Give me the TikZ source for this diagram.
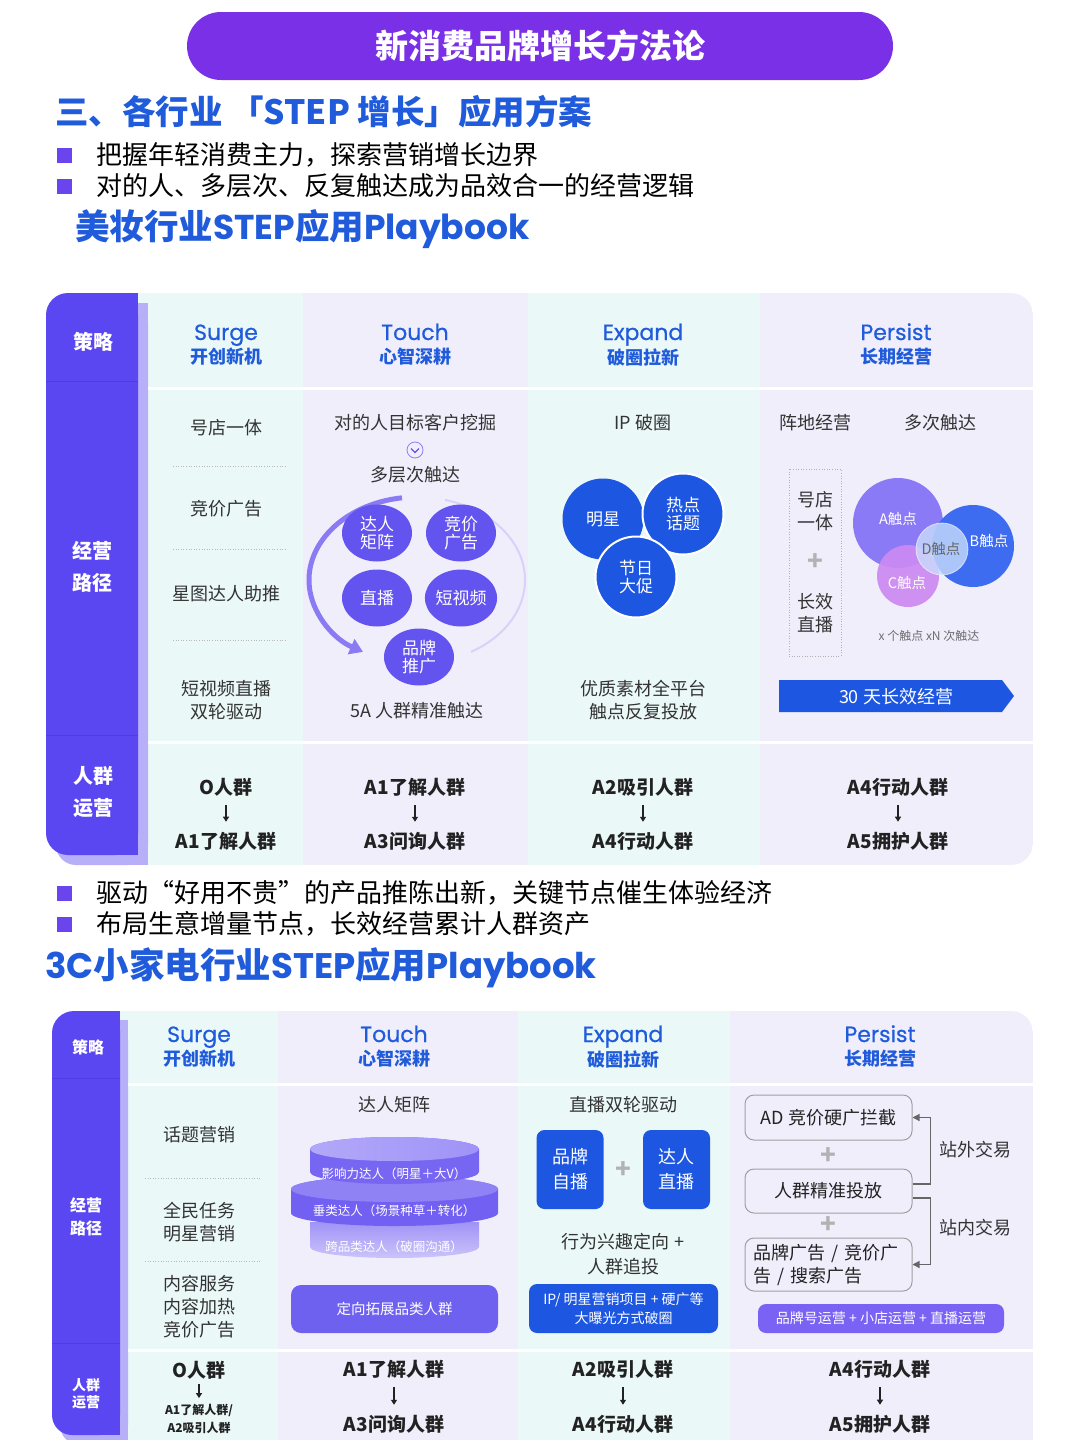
\documentclass[tikz,border=0pt]{standalone}
\usepackage{fontspec}
\setmainfont{Noto Sans CJK SC}
\newfontfamily\pop{Poppins}
\newfontfamily\popm{Poppins}[FakeBold=0.6]
\usetikzlibrary{arrows.meta,shapes.geometric,calc}
\definecolor{pur}{HTML}{5B47F1}
\definecolor{purdk}{HTML}{4F3CE2}
\definecolor{purlt}{HTML}{B7AFF8}
\definecolor{cyanbg}{HTML}{EBF8F8}
\definecolor{lavbg}{HTML}{F1EEFC}
\definecolor{hblue}{HTML}{1F5BDA}
\definecolor{banner}{HTML}{7A30E6}
\definecolor{txt}{HTML}{333333}
\definecolor{dark}{HTML}{222222}
\definecolor{cpur}{HTML}{6353EF}
\definecolor{eblue}{HTML}{1C56E1}
\definecolor{bul}{HTML}{6A44EC}
\definecolor{ringc}{HTML}{8A7BF4}
\definecolor{ringl}{HTML}{D8D2FA}
\definecolor{va}{HTML}{8A7AF6}
\definecolor{vb}{HTML}{3E6CF1}
\definecolor{vc}{HTML}{CC8AF2}
\definecolor{vd}{HTML}{C9DDFB}
\definecolor{pbarc}{HTML}{7A63F4}
\definecolor{cylA}{HTML}{7766F2}
\definecolor{cylAt}{HTML}{9F93F7}
\definecolor{cylB}{HTML}{7160F1}
\definecolor{cylBt}{HTML}{8F82F5}
\definecolor{cylC}{HTML}{A093F6}
\newcommand\fsz[2]{\fontsize{#1}{#2}\selectfont}
\begin{document}
\begin{tikzpicture}[x=1pt,y=-1pt,
  every node/.style={inner sep=0pt,align=center},
  hdr/.style={anchor=base, font=\popm\fsz{22}{26}, text=hblue},
  subh/.style={font=\fsz{18}{22}\bfseries, text=hblue},
  lab/.style={font=\fsz{20}{32}\bfseries, text=white},
  labs/.style={font=\fsz{16}{23}\bfseries, text=white},
  midt/.style={font=\fsz{18}{23}, text=txt},
  popl/.style={font=\fsz{19}{23}\bfseries, text=dark},
  darr/.style={-{Triangle[width=6pt,length=5pt]}, line width=1.6pt, draw=dark, shorten <=9pt, shorten >=10pt},
  darrb/.style={-{Triangle[width=6pt,length=5pt]}, line width=1.6pt, draw=dark, shorten <=5pt, shorten >=6pt},
  dots/.style={draw=gray!55, line width=1pt, dash pattern=on 1pt off 1.6pt},
  tc/.style={ellipse, fill=cpur, minimum width=70pt, minimum height=57pt, text=white, font=\fsz{17}{18}},
  ec/.style={circle, fill=eblue, minimum size=81pt, text=white, font=\fsz{17}{18}},
  vl/.style={font=\fsz{14.5}{16}, text=white},
  bulsq/.style={fill=bul, minimum size=15pt},
  bult/.style={anchor=west, font=\fsz{26}{30}, text=black},
  plusm/.style={font=\fsz{26}{26}\bfseries, text=gray!60},
  bsq/.style={fill=eblue, rounded corners=8pt, minimum width=67pt, minimum height=79pt, text=white, font=\fsz{18}{25}},
  obox/.style={draw=gray!75, line width=1pt, rounded corners=9pt, fill=lavbg, minimum width=167pt, text=dark, font=\fsz{18}{23}},
  conn/.style={draw=gray!80!black, line width=1.2pt, -{Triangle[width=7pt,length=7pt]}},
  cyltxt/.style={font=\fsz{12.5}{14}, text=white}
]
\fill[white] (0,0) rectangle (1080,1440);
\useasboundingbox (0,0) rectangle (1080,1440);

% ---------- banner and headings
\node[fill=banner, rounded corners=34pt, minimum width=706pt, minimum height=68pt,
      text=white, font=\fsz{33}{40}\bfseries] (ban) at (540,46) {新消费品牌增长方法论};
\node[anchor=west, text=hblue, font=\fsz{33.5}{38}\bfseries] (h1) at (55,112) {三、各行业\ 「STEP 增长」应用方案};
\node[bulsq] (bq1) at (64,155) {};
\node[bult] (bt1) at (96,155) {把握年轻消费主力，探索营销增长边界};
\node[bulsq] (bq2) at (64,186) {};
\node[bult] (bt2) at (96,186) {对的人、多层次、反复触达成为品效合一的经营逻辑};
\node[anchor=west, text=hblue, font=\fsz{34.5}{40}\bfseries] (h2) at (75,229) {美妆行业{\pop STEP}应用{\pop Playbook}};

% ---------- table 1 background
\begin{scope}
\clip[rounded corners=22pt] (46,293) rectangle (1033,865);
\fill[cyanbg] (138,293) rectangle (303,865);
\fill[lavbg] (303,293) rectangle (528,865);
\fill[cyanbg] (528,293) rectangle (760,865);
\fill[lavbg] (760,293) rectangle (1033,865);
\fill[purlt,rounded corners=20pt] (56,303) rectangle (148,865);
\fill[purlt] (120,303) rectangle (148,865);
\fill[pur,rounded corners=22pt] (46,293) rectangle (138,855);
\fill[pur] (110,293) rectangle (138,855);
\draw[purdk, line width=1pt] (46,381) -- (138,381);
\draw[purdk, line width=1pt] (46,735) -- (138,735);
\draw[white, line width=3pt] (148,388) -- (1033,388);
\draw[white, line width=3pt] (148,742) -- (1033,742);
\end{scope}

\node[lab] (l1a) at (93,342) {策略};
\node[lab] (l1b) at (92,567) {经营\\路径};
\node[lab] (l1c) at (93,792) {人群\\运营};

\node[hdr] (s1) at (226,340) {Surge};
\node[subh] (s1c) at (226,357) {开创新机};
\node[hdr] (t1) at (415,340) {Touch};
\node[subh] (t1c) at (415,357) {心智深耕};
\node[hdr] (e1) at (643,340) {Expand};
\node[subh] (e1c) at (643,357) {破圈拉新};
\node[hdr] (p1) at (896,340) {Persist};
\node[subh] (p1c) at (896,357) {长期经营};

% Surge column
\node[midt] (sa) at (226,428) {号店一体};
\draw[dots] (173,466) -- (287,466);
\node[midt] (sb) at (226,509) {竞价广告};
\draw[dots] (173,549) -- (287,549);
\node[midt] (sc) at (226,594) {星图达人助推};
\draw[dots] (173,640) -- (287,640);
\node[midt] (sd) at (226,700) {短视频直播\\双轮驱动};

% Touch column
\node[midt] (ta) at (415,423) {对的人目标客户挖掘};
\node[circle, draw=cpur!75, line width=0.8pt, minimum size=16pt] (chev) at (415,450) {};
\draw[cpur, line width=1.2pt] ($(chev)+(-4,-1.5)$) -- ($(chev)+(0,2.5)$) -- ($(chev)+(4,-1.5)$);
\node[midt] (tb) at (415,475) {多层次触达};
\draw[ringl, line width=2pt] (417,580) ++(285:108 and 83) arc[start angle=285, end angle=420, x radius=108, y radius=83];
\draw[ringc, line width=5pt, -{Triangle[width=16pt,length=13pt]}] (417,580) ++(262:108 and 83) arc[start angle=262, end angle=120, x radius=108, y radius=83];
\node[tc] (c1) at (377,533) {达人\\矩阵};
\node[tc] (c2) at (461,533) {竞价\\广告};
\node[tc] (c3) at (377,598) {直播};
\node[tc] (c4) at (461,598) {短视频};
\node[tc] (c5) at (419,657) {品牌\\推广};
\node[midt] (tc5a) at (417,711) {5A 人群精准触达};

% Expand column
\node[midt] (ea) at (643,423) {IP 破圈};
\node[ec] (ec1) at (603,519) {明星};
\node[ec, draw=white, line width=2pt] (ec2) at (683,514) {热点\\话题};
\node[ec, draw=white, line width=2pt] (ec3) at (636,577) {节日\\大促};
\node[midt] (eb) at (643,700) {优质素材全平台\\触点反复投放};

% Persist column
\node[midt] (pa) at (815,423) {阵地经营};
\node[midt] (pb) at (940,423) {多次触达};
\node[draw=gray!60, dash pattern=on 1pt off 1.6pt, line width=0.8pt, minimum width=52pt, minimum height=187pt] (dbox) at (815,562.5) {};
\node[midt] (pc) at (815,511.5) {号店\\一体};
\node[plusm] (pplus) at (815,562) {+};
\node[midt] (pd) at (815,613) {长效\\直播};
\node[circle, fill=va, minimum size=90pt] (vA) at (898,523) {};
\node[circle, fill=vb, minimum size=82pt] (vB) at (973,546) {};
\node[circle, fill=vc, fill opacity=0.92, minimum size=62pt] (vC) at (908,576) {};
\node[circle, fill=vd, fill opacity=0.8, draw=white, draw opacity=0.6, line width=0.8pt, minimum size=52pt] (vD) at (942,549) {};
\node[vl] (vAl) at (898,519) {A触点};
\node[vl] (vBl) at (989,541) {B触点};
\node[vl] (vCl) at (907,583) {C触点};
\node[vl, text=gray!80!black] (vDl) at (941,549) {D触点};
\node[font=\fsz{12}{14}, text=gray!85!black] (vnote) at (929,636) {x 个触点 xN 次触达};
\fill[eblue] (779,680) -- (1002,680) -- (1014,696) -- (1002,712) -- (779,712) -- cycle;
\node[font=\fsz{18}{22}, text=white] (bar30) at (896,697) {30 天长效经营};

% bottom row table 1
\node[popl] (r1a) at (226,787) {O人群};
\node[popl] (r1b) at (226,841) {A1了解人群};
\draw[darr] (r1a) -- (r1b);
\node[popl] (r2a) at (415,787) {A1了解人群};
\node[popl] (r2b) at (415,841) {A3问询人群};
\draw[darr] (r2a) -- (r2b);
\node[popl] (r3a) at (643,787) {A2吸引人群};
\node[popl] (r3b) at (643,841) {A4行动人群};
\draw[darr] (r3a) -- (r3b);
\node[popl] (r4a) at (898,787) {A4行动人群};
\node[popl] (r4b) at (898,841) {A5拥护人群};
\draw[darr] (r4a) -- (r4b);

% ---------- bullets 2 and heading 3
\node[bulsq] (bq3) at (64,893) {};
\node[bult] (bt3) at (96,893) {驱动“好用不贵”的产品推陈出新，关键节点催生体验经济};
\node[bulsq] (bq4) at (64,924) {};
\node[bult] (bt4) at (96,924) {布局生意增量节点，长效经营累计人群资产};
\node[anchor=west, text=hblue, font=\fsz{35.5}{40}\bfseries] (h3) at (45,968) {{\pop 3C}小家电行业{\pop STEP}应用{\pop Playbook}};

% ---------- table 2 background
\begin{scope}
\clip[rounded corners=22pt] (52,1011) rectangle (1033,1480);
\fill[cyanbg] (120,1011) rectangle (278,1480);
\fill[lavbg] (278,1011) rectangle (518,1480);
\fill[cyanbg] (518,1011) rectangle (730,1480);
\fill[lavbg] (730,1011) rectangle (1033,1480);
\fill[purlt,rounded corners=20pt] (60,1020) rectangle (128,1445);
\fill[purlt] (100,1020) rectangle (128,1445);
\fill[pur,rounded corners=20pt] (52,1011) rectangle (120,1435);
\fill[pur] (95,1011) rectangle (120,1435);
\draw[purdk, line width=1pt] (52,1078) -- (120,1078);
\draw[purdk, line width=1pt] (52,1343) -- (120,1343);
\draw[white, line width=3pt] (128,1084) -- (1033,1084);
\draw[white, line width=3pt] (128,1350) -- (1033,1350);
\end{scope}

\node[labs] (l2a) at (88,1047) {策略};
\node[labs] (l2b) at (86,1216.5) {经营\\路径};
\node[font=\fsz{14}{17}\bfseries, text=white] (l2c) at (86,1393.5) {人群\\运营};

\node[hdr] (s2) at (199,1042) {Surge};
\node[subh] (s2c) at (199,1059) {开创新机};
\node[hdr] (t2) at (394,1042) {Touch};
\node[subh] (t2c) at (394,1059) {心智深耕};
\node[hdr] (e2) at (623,1042) {Expand};
\node[subh] (e2c) at (623,1059) {破圈拉新};
\node[hdr] (p2) at (880,1042) {Persist};
\node[subh] (p2c) at (880,1059) {长期经营};

% Surge column 2
\node[midt] (ua) at (199,1135) {话题营销};
\draw[dots] (145,1178) -- (262,1178);
\node[midt] (ub) at (199,1222) {全民任务\\明星营销};
\draw[dots] (145,1261) -- (262,1261);
\node[midt] (uc) at (199,1307) {内容服务\\内容加热\\竞价广告};

% Touch column 2: cylinder
\node[midt] (va1) at (394,1105) {达人矩阵};
\shade[top color=cylC, bottom color=cylC!55!white] (310,1222) -- (310,1247) arc[start angle=180, end angle=0, x radius=84.5, y radius=11] -- (479,1222) -- cycle;
\fill[cylB] (291,1189) -- (291,1213) arc[start angle=180, end angle=0, x radius=103.5, y radius=13] -- (498,1189) arc[start angle=0, end angle=-180, x radius=103.5, y radius=13] -- cycle;
\fill[cylBt] (394.5,1189) ellipse[x radius=103.5, y radius=13];
\fill[cylA] (310,1149) -- (310,1172) arc[start angle=180, end angle=0, x radius=84.5, y radius=12] -- (479,1149) arc[start angle=0, end angle=-180, x radius=84.5, y radius=12] -- cycle;
\shade[left color=cylAt!80!white, right color=cylAt] (394.5,1149) ellipse[x radius=84.5, y radius=12];
\node[cyltxt] (cy1) at (394,1174) {影响力达人（明星＋大V）};
\node[cyltxt] (cy2) at (394,1211) {垂类达人（场景种草＋转化）};
\node[cyltxt] (cy3) at (394,1247) {跨品类达人（破圈沟通）};
\node[fill=cpur!92!white, rounded corners=10pt, minimum width=207pt, minimum height=48pt, text=white, font=\fsz{14.5}{18}] (dx) at (394.5,1309) {定向拓展品类人群};

% Expand column 2
\node[midt] (xa) at (623,1105) {直播双轮驱动};
\node[bsq] (zb) at (570,1169.5) {品牌\\自播};
\node[bsq] (dr) at (676.5,1169.5) {达人\\直播};
\node[plusm] (xplus) at (623,1170) {+};
\node[midt, font=\fsz{18}{25}] (xb) at (623,1254.5) {行为兴趣定向 +\\人群追投};
\node[fill=eblue, rounded corners=8pt, minimum width=189pt, minimum height=49pt, text=white, font=\fsz{14}{19}] (xc) at (623.5,1308.5) {IP/ 明星营销项目 + 硬广等\\大曝光方式破圈};

% Persist column 2
\node[obox, minimum height=45pt] (b1) at (828.5,1117.5) {AD 竞价硬广拦截};
\node[plusm] (bp1) at (828,1156) {+};
\node[obox, minimum height=44pt] (b2) at (828.5,1191) {人群精准投放};
\node[plusm] (bp2) at (828,1225) {+};
\node[obox, minimum height=53pt, text width=150pt, align=left] (b3) at (828.5,1264.5) {品牌广告 / 竞价广\\告 / 搜索广告};
\draw[conn] ([yshift=7pt]b2.east) -- ++(18,0) |- (b1.east);
\draw[conn] ([yshift=-7pt]b2.east) -- ++(18,0) |- (b3.east);
\node[midt] (zw) at (975,1150) {站外交易};
\node[midt] (zn) at (975,1228) {站内交易};
\node[fill=pbarc, rounded corners=8pt, minimum width=246pt, minimum height=29pt, text=white, font=\fsz{14}{17}] (pbar) at (881,1318.5) {品牌号运营 + 小店运营 + 直播运营};

% bottom row table 2
\node[popl] (q1a) at (199,1370) {O人群};
\node[font=\fsz{12}{18}\bfseries, text=dark] (q1b) at (199,1419) {A1了解人群/\\A2吸引人群};
\draw[darrb] (q1a) -- (q1b);
\node[popl] (q2a) at (394,1369) {A1了解人群};
\node[popl] (q2b) at (394,1424) {A3问询人群};
\draw[darr] (q2a) -- (q2b);
\node[popl] (q3a) at (623,1369) {A2吸引人群};
\node[popl] (q3b) at (623,1424) {A4行动人群};
\draw[darr] (q3a) -- (q3b);
\node[popl] (q4a) at (880,1369) {A4行动人群};
\node[popl] (q4b) at (880,1424) {A5拥护人群};
\draw[darr] (q4a) -- (q4b);
\end{tikzpicture}
\end{document}
